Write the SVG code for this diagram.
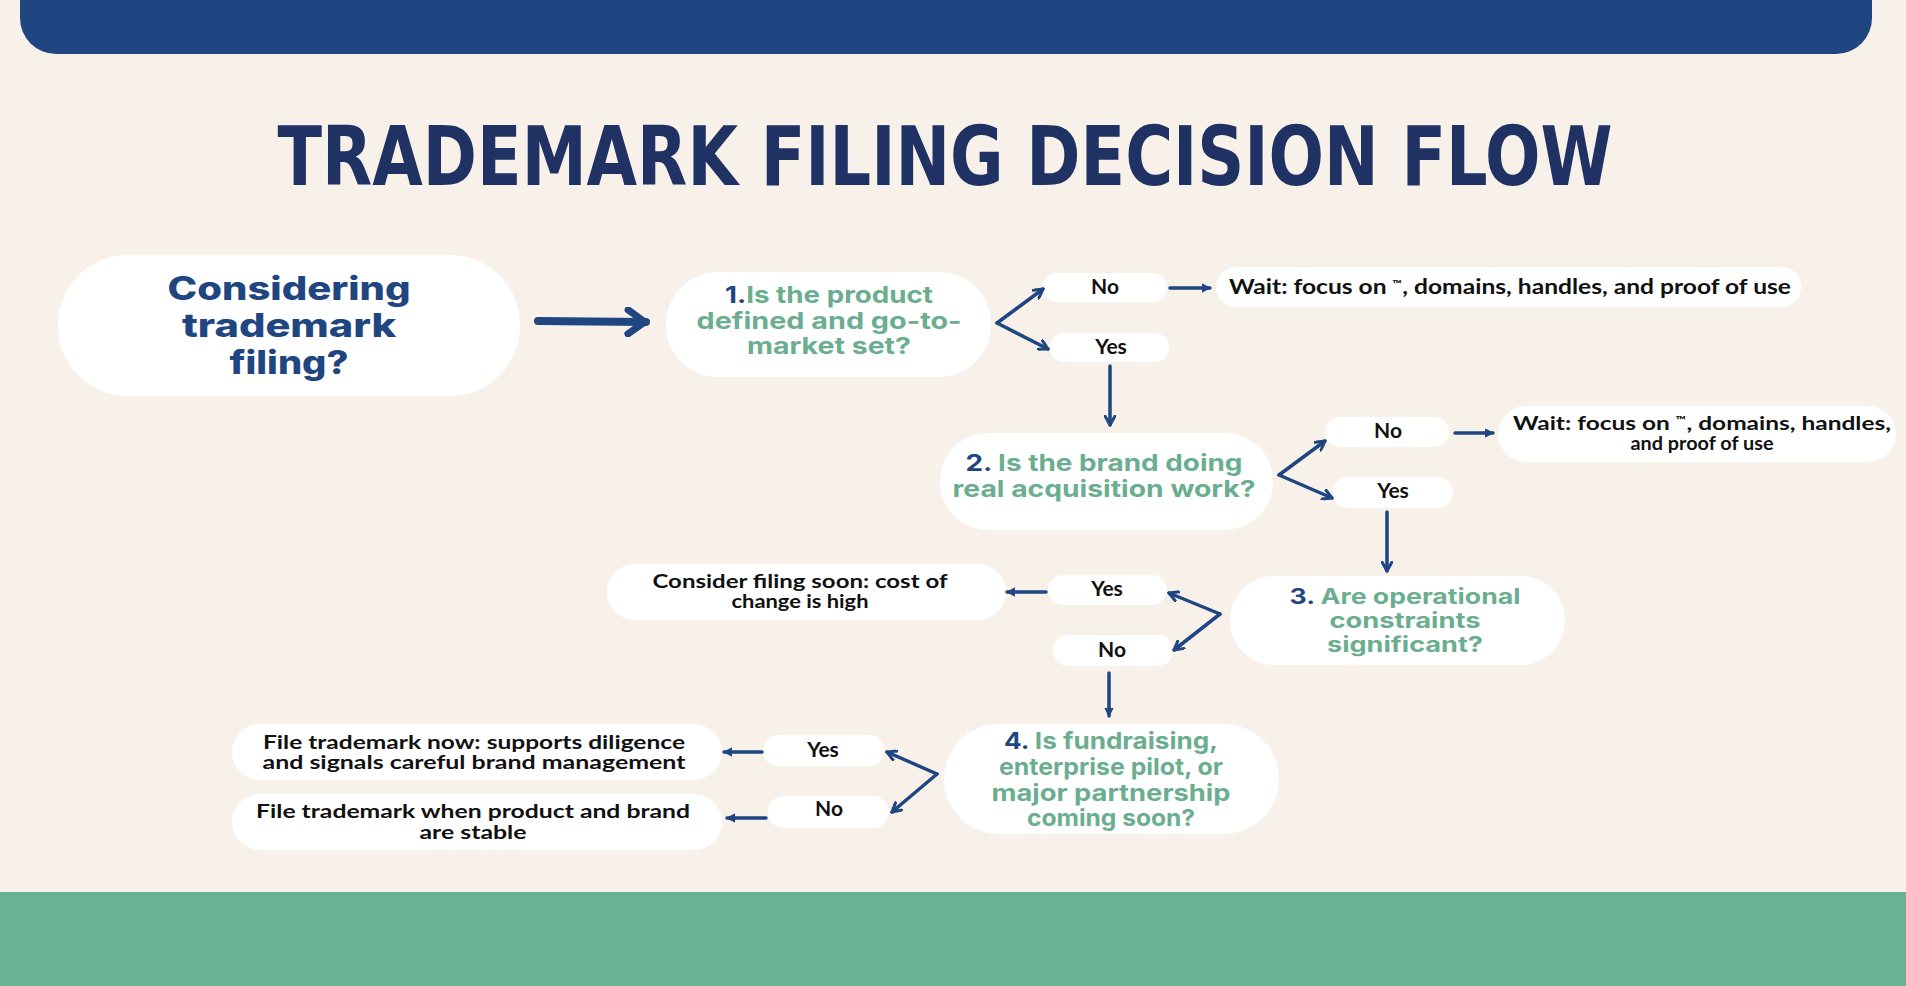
<svg xmlns="http://www.w3.org/2000/svg" width="1906" height="986" viewBox="0 0 1906 986">
<defs>
<marker id="ah" viewBox="0 0 12 12" refX="10" refY="6" markerWidth="12" markerHeight="12" markerUnits="userSpaceOnUse" orient="auto">
<path d="M1,1 L10,6 L1,11" fill="none" stroke="#1f4681" stroke-width="3" stroke-linecap="round" stroke-linejoin="round"/>
</marker>
<marker id="ahs" viewBox="0 0 12 12" refX="10" refY="6" markerWidth="10" markerHeight="10" markerUnits="userSpaceOnUse" orient="auto">
<path d="M1,1.5 L10,6 L1,10.5 Z" fill="#1f4681" stroke="#1f4681" stroke-width="1.5" stroke-linejoin="round"/>
</marker>
<marker id="ahb" viewBox="0 0 24 30" refX="22" refY="15" markerWidth="24" markerHeight="30" markerUnits="userSpaceOnUse" orient="auto">
<path d="M4,3 L21,15 L4,27" fill="none" stroke="#1f4681" stroke-width="7" stroke-linecap="round" stroke-linejoin="round"/>
</marker>
</defs>
<style>
.pill{fill:#ffffff}
.q{font-family:Inter,"Noto Sans","DejaVu Sans",sans-serif;font-weight:700;font-size:23px;fill:#6aae8f;text-anchor:middle}
.q3{font-size:21px}
.qn{fill:#1f4681}
.s{font-family:Inter,"Noto Sans",sans-serif;font-weight:800;font-size:32px;fill:#1f4681;text-anchor:middle}
.a{font-family:Lato,"Liberation Sans",sans-serif;font-weight:700;font-size:19px;fill:#111111;text-anchor:middle}
.a1{font-family:Lato,"Liberation Sans",sans-serif;font-weight:700;font-size:21px;fill:#111111;text-anchor:middle}
.tm{font-size:11px}
.yn{font-family:Lato,"Liberation Sans",sans-serif;font-weight:700;font-size:21px;fill:#111111;text-anchor:middle}
.c{fill:none;stroke:#1f4681;stroke-width:3.5;stroke-linecap:round;stroke-linejoin:round}
</style>
<rect x="0" y="0" width="1906" height="986" fill="#f8f1e9"/>
<path d="M20,0 H1872 V18 A36,36 0 0 1 1836,54 H56 A36,36 0 0 1 20,18 Z" fill="#1f4681"/>
<rect x="0" y="892" width="1906" height="94" fill="#68b393"/>
<text x="945" y="185" font-family="DejaVu Sans Condensed,'DejaVu Sans',sans-serif" font-weight="bold" font-size="82" fill="#1f3263" text-anchor="middle" textLength="1335" lengthAdjust="spacingAndGlyphs">TRADEMARK FILING DECISION FLOW</text>

<g id="start">
<rect class="pill" x="58" y="255" width="462" height="141" rx="70"/>
<text class="s" x="289" y="300" textLength="243" lengthAdjust="spacingAndGlyphs">Considering</text>
<text class="s" x="289" y="337" textLength="214" lengthAdjust="spacingAndGlyphs">trademark</text>
<text class="s" x="289" y="374" textLength="119" lengthAdjust="spacingAndGlyphs">filing?</text>
</g>

<g id="q1">
<rect class="pill" x="666" y="272" width="325" height="105" rx="52"/>
<text class="q" x="829" y="303" textLength="208" lengthAdjust="spacingAndGlyphs"><tspan class="qn">1.</tspan>Is the product</text>
<text class="q" x="829" y="329" textLength="265" lengthAdjust="spacingAndGlyphs">defined and go-to-</text>
<text class="q" x="829" y="354" textLength="164" lengthAdjust="spacingAndGlyphs">market set?</text>
</g>
<g id="q1-no">
<rect class="pill" x="1043" y="273" width="124" height="29" rx="14"/>
<text class="yn" x="1105" y="294">No</text>
</g>
<g id="q1-yes">
<rect class="pill" x="1050" y="333" width="119" height="29" rx="14"/>
<text class="yn" x="1111" y="354">Yes</text>
</g>
<g id="wait1">
<rect class="pill" x="1216" y="267" width="585" height="40" rx="20"/>
<text class="a1" x="1510" y="294" textLength="562" lengthAdjust="spacingAndGlyphs">Wait: focus on <tspan class="tm" dy="-6">™</tspan><tspan dy="6">, domains, handles, and proof of use</tspan></text>
</g>

<g id="q2">
<rect class="pill" x="940" y="433" width="333" height="97" rx="48"/>
<text class="q" x="1104" y="471" textLength="277" lengthAdjust="spacingAndGlyphs"><tspan class="qn">2.</tspan> Is the brand doing</text>
<text class="q" x="1104" y="497" textLength="303" lengthAdjust="spacingAndGlyphs">real acquisition work?</text>
</g>
<g id="q2-no">
<rect class="pill" x="1325" y="417" width="124" height="30" rx="15"/>
<text class="yn" x="1388" y="438">No</text>
</g>
<g id="q2-yes">
<rect class="pill" x="1333" y="477" width="120" height="31" rx="15"/>
<text class="yn" x="1393" y="498">Yes</text>
</g>
<g id="wait2">
<rect class="pill" x="1498" y="406" width="398" height="56" rx="28"/>
<text class="a" x="1702" y="430" textLength="378" lengthAdjust="spacingAndGlyphs">Wait: focus on <tspan class="tm" dy="-6">™</tspan><tspan dy="6">, domains, handles,</tspan></text>
<text class="a" x="1702" y="450" textLength="143" lengthAdjust="spacingAndGlyphs">and proof of use</text>
</g>

<g id="q3">
<rect class="pill" x="1230" y="576" width="335" height="89" rx="44"/>
<text class="q q3" x="1405" y="604" textLength="231" lengthAdjust="spacingAndGlyphs"><tspan class="qn">3.</tspan> Are operational</text>
<text class="q q3" x="1405" y="628" textLength="151" lengthAdjust="spacingAndGlyphs">constraints</text>
<text class="q q3" x="1405" y="652" textLength="156" lengthAdjust="spacingAndGlyphs">significant?</text>
</g>
<g id="q3-yes">
<rect class="pill" x="1048" y="575" width="119" height="30" rx="15"/>
<text class="yn" x="1107" y="596">Yes</text>
</g>
<g id="q3-no">
<rect class="pill" x="1053" y="635" width="120" height="31" rx="15"/>
<text class="yn" x="1112" y="657">No</text>
</g>
<g id="consider">
<rect class="pill" x="607" y="564" width="399" height="56" rx="28"/>
<text class="a" x="800" y="588" textLength="295" lengthAdjust="spacingAndGlyphs">Consider filing soon: cost of</text>
<text class="a" x="800" y="608" textLength="137" lengthAdjust="spacingAndGlyphs">change is high</text>
</g>

<g id="q4">
<rect class="pill" x="944" y="724" width="335" height="110" rx="55"/>
<text class="q" x="1111" y="749" textLength="214" lengthAdjust="spacingAndGlyphs"><tspan class="qn">4.</tspan> Is fundraising,</text>
<text class="q" x="1111" y="775" textLength="224" lengthAdjust="spacingAndGlyphs">enterprise pilot, or</text>
<text class="q" x="1111" y="801" textLength="239" lengthAdjust="spacingAndGlyphs">major partnership</text>
<text class="q" x="1111" y="826" textLength="168" lengthAdjust="spacingAndGlyphs">coming soon?</text>
</g>
<g id="q4-yes">
<rect class="pill" x="763" y="735" width="121" height="31" rx="15"/>
<text class="yn" x="823" y="757">Yes</text>
</g>
<g id="q4-no">
<rect class="pill" x="768" y="796" width="121" height="32" rx="16"/>
<text class="yn" x="829" y="816">No</text>
</g>
<g id="file-now">
<rect class="pill" x="232" y="724" width="490" height="56" rx="28"/>
<text class="a" x="474" y="749" textLength="422" lengthAdjust="spacingAndGlyphs">File trademark now: supports diligence</text>
<text class="a" x="474" y="769" textLength="423" lengthAdjust="spacingAndGlyphs">and signals careful brand management</text>
</g>
<g id="file-later">
<rect class="pill" x="232" y="794" width="490" height="56" rx="28"/>
<text class="a" x="473" y="818" textLength="434" lengthAdjust="spacingAndGlyphs">File trademark when product and brand</text>
<text class="a" x="473" y="839" textLength="107" lengthAdjust="spacingAndGlyphs">are stable</text>
</g>

<g id="connectors">
<path d="M538,321 L646,322" fill="none" stroke="#1f4681" stroke-width="8" stroke-linecap="round" marker-end="url(#ahb)"/>
<path class="c" d="M997,323 L1043,289" marker-end="url(#ah)"/>
<path class="c" d="M997,323 L1048,349" marker-end="url(#ah)"/>
<path class="c" d="M1170,288 L1210,288" stroke-width="2.5" marker-end="url(#ahs)"/>
<path class="c" d="M1110,366 L1110,425" marker-end="url(#ah)"/>
<path class="c" d="M1279,475 L1325,441" marker-end="url(#ah)"/>
<path class="c" d="M1279,475 L1332,498" marker-end="url(#ah)"/>
<path class="c" d="M1455,433 L1493,433" stroke-width="2.5" marker-end="url(#ahs)"/>
<path class="c" d="M1387,512 L1387,571" marker-end="url(#ah)"/>
<path class="c" d="M1220,614 L1169,593" marker-end="url(#ah)"/>
<path class="c" d="M1220,614 L1174,650" marker-end="url(#ah)"/>
<path class="c" d="M1046,592 L1007,592" stroke-width="2.5" marker-end="url(#ahs)"/>
<path class="c" d="M1109,673 L1109,716" stroke-width="2.5" marker-end="url(#ahs)"/>
<path class="c" d="M937,774 L887,752" marker-end="url(#ah)"/>
<path class="c" d="M937,774 L892,812" marker-end="url(#ah)"/>
<path class="c" d="M762,752 L724,752" stroke-width="2.5" marker-end="url(#ahs)"/>
<path class="c" d="M766,818 L727,818" stroke-width="2.5" marker-end="url(#ahs)"/>
</g>
</svg>
